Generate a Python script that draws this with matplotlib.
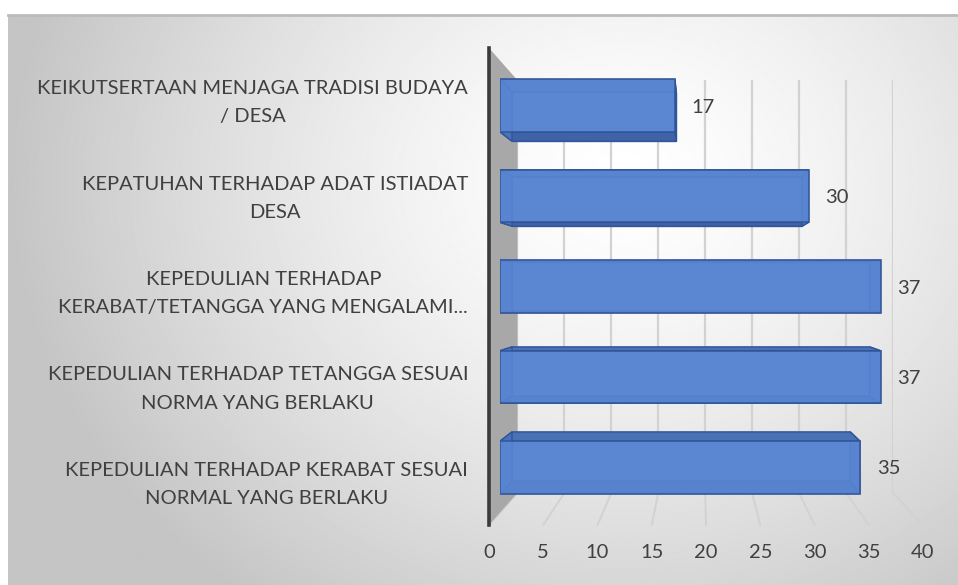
import numpy as np
import matplotlib
matplotlib.use("Agg")
import matplotlib.pyplot as plt
from matplotlib.patches import Polygon, ConnectionPatch

categories = [
    "KEPEDULIAN TERHADAP KERABAT SESUAI\nNORMAL YANG BERLAKU",
    "KEPEDULIAN TERHADAP TETANGGA SESUAI\nNORMA YANG BERLAKU",
    "KEPEDULIAN TERHADAP\nKERABAT/TETANGGA YANG MENGALAMI...",
    "KEPATUHAN TERHADAP ADAT ISTIADAT\nDESA",
    "KEIKUTSERTAAN MENJAGA TRADISI BUDAYA\n/ DESA",
]
values = [35, 37, 37, 30, 17]
xticks = [0, 5, 10, 15, 20, 25, 30, 35, 40]

W, H, DPI = 958, 585, 100
plt.rcParams['font.family'] = ['Lato', 'DejaVu Sans']
TXT = '#404040'

# perspective layout (pixels from top-left)
VX, VY = 700, 287          # vanishing point
FX0, FX1, FY0, FY1 = 489, 923, 48, 525   # front plane (floor edge / axis line)
S_BACK = 0.865             # back wall scale
S_BAR = 0.948              # bar front scale
S_DEPTH = 0.94             # bar back face relative to bar front

fig = plt.figure(figsize=(W / DPI, H / DPI), dpi=DPI)
fig.patch.set_facecolor('white')

# background gradient
bg = fig.add_axes([0, 0, 1, 1], zorder=0)
yy, xx = np.mgrid[0:H, 0:W]
d = np.sqrt(((xx - 620) / 640.0) ** 2 + ((yy - 170) / 560.0) ** 2)
shade = np.clip(1.0 - 0.24 * d ** 1.4, 0.77, 1)
bg.imshow(shade, cmap='gray', vmin=0, vmax=1, extent=(8, W, H, 15), aspect='auto')
bg.plot([8, W], [15, 15], color='#bcbcbc', lw=2)
bg.set_xlim(0, W)
bg.set_ylim(H, 0)
bg.axis('off')


def plane(s, z):
    l = VX + s * (FX0 - VX)
    r = VX + s * (FX1 - VX)
    t = VY + s * (FY0 - VY)
    b = VY + s * (FY1 - VY)
    ax = fig.add_axes([l / W, 1 - b / H, (r - l) / W, (b - t) / H], zorder=z)
    ax.set_xlim(0, 40)
    ax.set_ylim(-0.5, 4.5)
    ax.patch.set_alpha(0)
    for sp in ax.spines.values():
        sp.set_visible(False)
    return ax


ax_back = plane(S_BACK, 1)
ax_back.set_xticks(xticks)
ax_back.set_yticks([])
ax_back.tick_params(length=0, labelbottom=False)
ax_back.grid(axis='x', color='#d2d2d2', lw=1.6)

ax_front = plane(1.0, 4)
ax_bar = plane(S_BAR, 3)

# floor lines
for v in xticks:
    cp = ConnectionPatch(xyA=(v, -0.5), coordsA=ax_back.transData,
                         xyB=(v, -0.5), coordsB=ax_front.transData,
                         color='#d2d2d2', lw=1.4, zorder=1.5)
    fig.add_artist(cp)

# left side wall
pts = [ax_front.transData.transform((0, 4.5)), ax_back.transData.transform((0, 4.5)),
       ax_back.transData.transform((0, -0.5)), ax_front.transData.transform((0, -0.5))]
pts = [fig.transFigure.inverted().transform(p) for p in pts]
fig.add_artist(Polygon(pts, closed=True, transform=fig.transFigure,
                       facecolor='#a8a8a8', edgecolor='none', zorder=2))

ax_front.spines['left'].set_visible(True)
ax_front.spines['left'].set_color('#3a3a3a')
ax_front.spines['left'].set_linewidth(2.6)
ax_front.set_xticks(xticks)
ax_front.set_xticklabels([str(t) for t in xticks])
ax_front.set_yticks(range(len(categories)))
ax_front.set_yticklabels(categories, ha='right', multialignment='center', linespacing=1.8)
ax_front.tick_params(axis='x', length=0, pad=14, labelsize=14.5, labelcolor=TXT)
ax_front.tick_params(axis='y', length=0, pad=15, labelsize=14.5, labelcolor=TXT)

# bars as transparent boxes
h = 0.58
vx_d = fig.dpi_scale_trans.transform((VX / DPI, 0))[0]
vy_d = fig.dpi_scale_trans.transform((0, (H - VY) / DPI))[1]
inv = ax_bar.transData.inverted()


def back(p):
    x, y = ax_bar.transData.transform(p)
    x = vx_d + S_DEPTH * (x - vx_d)
    y = vy_d + S_DEPTH * (y - vy_d)
    return tuple(inv.transform((x, y)))


edge = '#2f5597'
for i, v in enumerate(values):
    f = [(0, i - h / 2), (v, i - h / 2), (v, i + h / 2), (0, i + h / 2)]
    b = [back(p) for p in f]
    ax_bar.add_patch(Polygon(b, closed=True, facecolor='#5079c4', edgecolor='#3d66b0', lw=1.0, zorder=1))
    # bottom, right, top, left faces
    faces = [([f[0], f[1], b[1], b[0]], '#3f63a6'),
             ([f[1], f[2], b[2], b[1]], '#4a72bb'),
             ([f[2], f[3], b[3], b[2]], '#4a70b6'),
             ([f[3], f[0], b[0], b[3]], '#4a72bb')]
    for poly, c in faces:
        ax_bar.add_patch(Polygon(poly, closed=True, facecolor=c, edgecolor=edge, lw=1.0, zorder=2))

ax_bar.barh(range(len(values)), values, height=h, color='#5d89d6', alpha=0.82,
            edgecolor=edge, lw=1.3, zorder=3)
for i, v in enumerate(values):
    ax_bar.annotate(str(v), xy=(v, i), xytext=(17, 0), textcoords='offset pixels',
                    ha='left', va='center_baseline', fontsize=14.5, color=TXT)
ax_bar.set_xticks([])
ax_bar.set_yticks([])
ax_bar.set_xlim(0, 40)
ax_bar.set_ylim(-0.5, 4.5)

fig.savefig('out.png', dpi=DPI)
